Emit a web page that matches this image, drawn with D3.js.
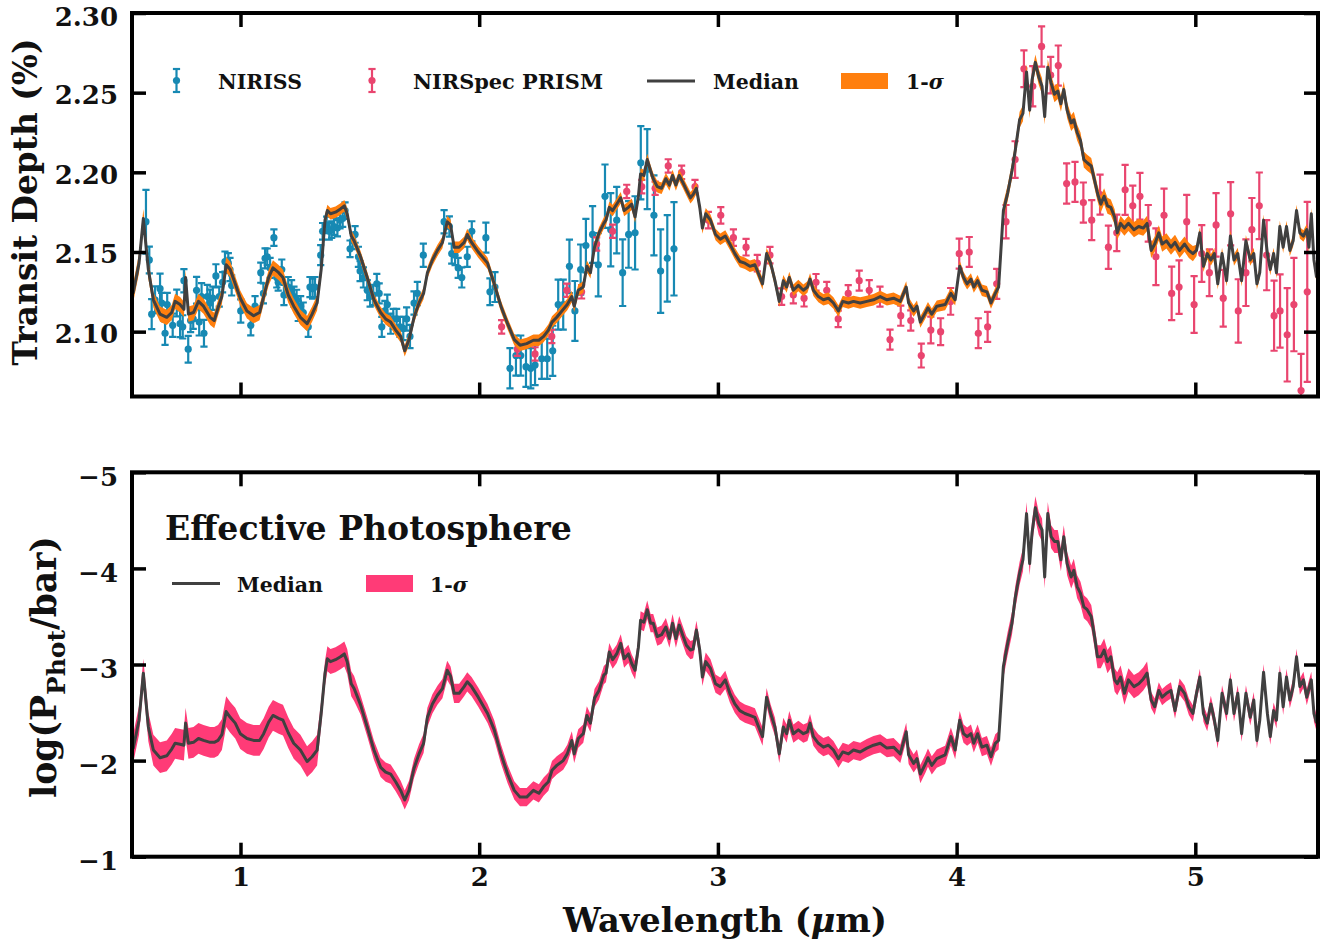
<!DOCTYPE html>
<html><head><meta charset="utf-8">
<script src="https://cdn.jsdelivr.net/npm/d3@7"></script>
<style>
body{margin:0;background:#fff}
svg{display:block}
text{font-family:'DejaVu Serif',serif;font-weight:bold;fill:#111}
</style>
</head><body>
<svg id="c" width="1335" height="947"></svg>
<script>
// ---------------- DATA ----------------
const modelWave = [
0.550,0.575,0.593,0.614,0.635,0.663,0.691,0.712,0.726,0.747,
0.763,0.770,0.782,0.803,0.824,0.845,0.873,0.890,0.906,0.922,
0.940,0.957,0.978,0.999,1.027,1.055,1.080,1.097,1.118,1.136,
1.160,1.178,1.200,1.223,1.251,1.279,1.300,1.321,1.338,1.354,
1.364,1.377,1.398,1.419,1.435,1.447,1.464,1.476,1.503,1.531,
1.559,1.587,1.608,1.629,1.650,1.671,1.688,1.706,1.727,1.748,
1.767,1.783,1.804,1.825,1.846,1.866,1.880,1.895,1.916,1.937,
1.950,1.968,1.996,2.035,2.063,2.091,2.119,2.147,2.171,2.199,
2.227,2.250,2.270,2.290,2.305,2.325,2.352,2.369,2.388,2.398,
2.415,2.436,2.451,2.466,2.483,2.502,2.522,2.531,2.545,2.559,
2.576,2.593,2.607,2.625,2.639,2.653,2.667,2.676,2.690,2.704,
2.718,2.729,2.746,2.764,2.782,2.797,2.810,2.824,2.838,2.852,
2.868,2.885,2.896,2.910,2.924,2.935,2.949,2.969,2.990,3.010,
3.031,3.050,3.071,3.092,3.113,3.134,3.155,3.171,3.187,3.204,
3.221,3.239,3.257,3.274,3.288,3.299,3.316,3.337,3.358,3.375,
3.386,3.400,3.421,3.442,3.463,3.484,3.505,3.523,3.547,3.568,
3.596,3.624,3.652,3.680,3.708,3.736,3.764,3.789,3.799,3.820,
3.834,3.848,3.870,3.880,3.896,3.917,3.952,3.976,3.994,4.013,
4.029,4.044,4.060,4.072,4.088,4.106,4.127,4.144,4.162,4.176,
4.196,4.214,4.232,4.246,4.264,4.278,4.293,4.306,4.316,4.330,
4.344,4.358,4.369,4.382,4.396,4.410,4.424,4.437,4.449,4.463,
4.480,4.491,4.505,4.519,4.533,4.547,4.564,4.578,4.590,4.604,
4.618,4.632,4.646,4.662,4.673,4.687,4.703,4.720,4.743,4.763,
4.782,4.798,4.815,4.830,4.847,4.861,4.879,4.898,4.915,4.934,
4.955,4.973,4.990,5.005,5.019,5.034,5.050,5.065,5.080,5.094,
5.112,5.131,5.147,5.162,5.178,5.194,5.212,5.230,5.245,5.258,
5.270,5.286,5.302,5.314,5.328,5.340,5.354,5.368,5.382,5.396,
5.410,5.424,5.438,5.453,5.467,5.476,5.486,5.497,5.508];

const depthMedian = [
2.124,2.143,2.171,2.139,2.120,2.111,2.109,2.112,2.119,2.117,
2.114,2.134,2.111,2.112,2.119,2.116,2.109,2.107,2.115,2.122,
2.142,2.139,2.130,2.121,2.113,2.110,2.112,2.122,2.134,2.140,
2.137,2.134,2.123,2.116,2.109,2.105,2.111,2.118,2.139,2.170,
2.176,2.174,2.175,2.177,2.179,2.174,2.160,2.157,2.147,2.134,
2.120,2.112,2.108,2.106,2.101,2.097,2.088,2.095,2.109,2.118,
2.124,2.137,2.145,2.151,2.156,2.169,2.167,2.153,2.153,2.156,
2.161,2.156,2.150,2.143,2.130,2.116,2.105,2.095,2.0915,2.0925,
2.0946,2.0946,2.097,2.101,2.106,2.109,2.114,2.117,2.122,2.116,
2.126,2.128,2.141,2.137,2.153,2.162,2.168,2.170,2.178,2.176,
2.180,2.184,2.176,2.178,2.180,2.172,2.185,2.199,2.198,2.208,
2.201,2.196,2.191,2.190,2.196,2.192,2.198,2.192,2.198,2.194,
2.189,2.184,2.186,2.190,2.178,2.165,2.174,2.170,2.161,2.158,
2.160,2.155,2.149,2.144,2.143,2.141,2.142,2.136,2.130,2.149,
2.143,2.132,2.119,2.132,2.128,2.134,2.126,2.129,2.126,2.128,
2.133,2.126,2.122,2.120,2.121,2.118,2.113,2.119,2.118,2.119,
2.118,2.119,2.120,2.122,2.120,2.121,2.119,2.128,2.118,2.113,
2.116,2.106,2.112,2.115,2.111,2.116,2.117,2.124,2.120,2.141,
2.134,2.130,2.133,2.128,2.132,2.126,2.125,2.118,2.124,2.128,
2.176,2.187,2.201,2.214,2.233,2.237,2.263,2.239,2.258,2.269,
2.260,2.254,2.235,2.266,2.256,2.249,2.251,2.243,2.252,2.239,
2.231,2.233,2.225,2.220,2.208,2.206,2.204,2.195,2.187,2.180,
2.185,2.179,2.178,2.172,2.162,2.168,2.165,2.168,2.164,2.166,
2.165,2.168,2.151,2.155,2.162,2.155,2.157,2.153,2.156,2.151,
2.155,2.151,2.149,2.151,2.162,2.141,2.149,2.145,2.149,2.130,
2.149,2.132,2.160,2.145,2.149,2.132,2.157,2.145,2.149,2.130,
2.137,2.170,2.149,2.139,2.149,2.137,2.166,2.153,2.166,2.151,
2.157,2.176,2.162,2.160,2.164,2.153,2.174,2.145,2.134];

const photMedian = [
-2.12,-2.42,-2.91,-2.35,-2.11,-2.03,-2.05,-2.12,-2.18,-2.17,
-2.16,-2.39,-2.18,-2.19,-2.23,-2.21,-2.19,-2.19,-2.21,-2.27,
-2.51,-2.45,-2.39,-2.28,-2.23,-2.21,-2.21,-2.28,-2.40,-2.47,
-2.44,-2.42,-2.29,-2.18,-2.11,-1.99,-2.04,-2.11,-2.49,-2.91,
-3.06,-3.03,-3.05,-3.08,-3.11,-3.03,-2.80,-2.75,-2.58,-2.35,
-2.11,-1.93,-1.88,-1.86,-1.78,-1.69,-1.59,-1.69,-1.92,-2.07,
-2.18,-2.45,-2.59,-2.68,-2.75,-2.94,-2.88,-2.70,-2.70,-2.77,
-2.82,-2.77,-2.66,-2.49,-2.32,-2.07,-1.86,-1.69,-1.62,-1.62,
-1.69,-1.66,-1.73,-1.78,-1.90,-1.95,-2.00,-2.07,-2.21,-2.07,
-2.23,-2.28,-2.47,-2.39,-2.65,-2.73,-2.89,-2.91,-3.13,-3.05,
-3.11,-3.22,-3.06,-3.11,-3.01,-2.94,-3.18,-3.46,-3.44,-3.57,
-3.43,-3.43,-3.29,-3.31,-3.39,-3.27,-3.43,-3.27,-3.41,-3.31,
-3.20,-3.15,-3.16,-3.36,-3.15,-2.87,-3.03,-2.96,-2.80,-2.77,
-2.84,-2.70,-2.59,-2.52,-2.49,-2.47,-2.45,-2.35,-2.25,-2.66,
-2.49,-2.35,-2.07,-2.35,-2.28,-2.42,-2.28,-2.32,-2.28,-2.30,
-2.39,-2.25,-2.18,-2.14,-2.16,-2.11,-2.02,-2.09,-2.07,-2.11,
-2.09,-2.13,-2.16,-2.18,-2.13,-2.14,-2.07,-2.30,-2.06,-1.97,
-2.02,-1.86,-1.97,-2.03,-1.95,-2.02,-2.06,-2.25,-2.11,-2.42,
-2.28,-2.25,-2.28,-2.18,-2.28,-2.14,-2.16,-2.04,-2.18,-2.21,
-2.98,-3.22,-3.43,-3.70,-3.95,-4.09,-4.57,-4.05,-4.37,-4.63,
-4.47,-4.40,-3.91,-4.57,-4.33,-4.28,-4.28,-4.09,-4.33,-4.05,
-3.91,-3.98,-3.81,-3.74,-3.60,-3.57,-3.50,-3.29,-3.08,-3.08,
-3.15,-3.03,-3.08,-2.84,-2.80,-2.87,-2.70,-2.84,-2.77,-2.80,
-2.85,-2.91,-2.63,-2.56,-2.73,-2.66,-2.70,-2.73,-2.52,-2.77,
-2.70,-2.56,-2.49,-2.70,-2.87,-2.49,-2.39,-2.59,-2.42,-2.21,
-2.70,-2.49,-2.84,-2.49,-2.70,-2.28,-2.70,-2.45,-2.63,-2.21,
-2.42,-2.92,-2.49,-2.25,-2.52,-2.42,-2.91,-2.56,-2.87,-2.63,
-2.77,-3.08,-2.77,-2.84,-2.66,-2.75,-2.84,-2.49,-2.39];

// 1-sigma half widths read per wavelength range: [from, to, halfWidth]
const depthSigmaBands = [[0.54,0.62,0.006],[0.62,1.34,0.0048],[1.34,4.19,0.0036],[4.19,4.66,0.005],[4.66,5.0,0.0048],[5.0,5.52,0.0036]];
const photSigmaBands = [[0.54,0.62,0.15],[0.62,1.33,0.16],[1.33,1.50,0.13],[1.50,2.10,0.10],[2.10,4.19,0.095],[4.19,4.80,0.12],[4.80,5.52,0.085]];

const nirissWave = [
0.604,0.618,0.628,0.642,0.663,0.670,0.684,0.693,0.716,0.733,
0.747,0.758,0.763,0.781,0.791,0.802,0.816,0.827,0.837,0.847,
0.861,0.872,0.884,0.897,0.911,0.925,0.935,0.949,0.956,0.963,
1.001,1.043,1.061,1.085,1.096,1.103,1.112,1.124,1.140,1.152,
1.158,1.173,1.182,1.200,1.214,1.224,1.235,1.242,1.252,1.263,
1.284,1.291,1.302,1.312,1.336,1.344,1.361,1.372,1.382,1.392,
1.406,1.417,1.428,1.438,1.459,1.470,1.480,1.494,1.501,1.515,
1.531,1.543,1.556,1.571,1.581,1.592,1.605,1.615,1.629,1.640,
1.654,1.668,1.682,1.696,1.710,1.727,1.741,1.766,1.853,1.875,
1.885,1.899,1.912,1.927,1.950,1.969,2.028,2.045,2.066,2.129,
2.154,2.174,2.196,2.216,2.234,2.262,2.285,2.308,2.331,2.352,
2.378,2.401,2.425,2.447,2.475,2.499,2.527,2.551,2.576,2.601,
2.626,2.653,2.677,2.704,2.732,2.760,2.788,2.816];
const nirissDepth = [
2.169,2.145,2.111,2.120,2.127,2.118,2.099,2.117,2.104,2.118,
2.105,2.103,2.132,2.089,2.107,2.108,2.126,2.106,2.122,2.099,
2.122,2.118,2.121,2.135,2.122,2.131,2.144,2.143,2.139,2.129,
2.113,2.104,2.116,2.137,2.124,2.146,2.147,2.140,2.159,2.134,
2.131,2.139,2.123,2.128,2.126,2.122,2.120,2.113,2.116,2.112,
2.103,2.128,2.127,2.128,2.148,2.163,2.167,2.163,2.164,2.166,
2.165,2.170,2.171,2.176,2.152,2.157,2.161,2.147,2.138,2.134,
2.126,2.122,2.123,2.130,2.124,2.103,2.113,2.117,2.105,2.108,
2.108,2.103,2.102,2.108,2.097,2.118,2.124,2.148,2.169,2.166,
2.149,2.148,2.140,2.134,2.147,2.163,2.159,2.125,2.128,2.077,
2.085,2.085,2.078,2.077,2.079,2.083,2.083,2.088,2.117,2.117,
2.141,2.113,2.139,2.154,2.161,2.142,2.185,2.164,2.170,2.137,
2.161,2.162,2.206,2.202,2.173,2.138,2.146,2.152];
const nirissErr = [
0.020,0.0084,0.0094,0.0084,0.0094,0.0063,0.0073,0.0073,0.0073,0.0084,
0.0084,0.0073,0.0073,0.0084,0.0073,0.0063,0.0084,0.0084,0.0084,0.0084,
0.0073,0.0084,0.0073,0.0073,0.0063,0.0063,0.0063,0.0063,0.0073,0.0063,
0.0073,0.0063,0.0063,0.0063,0.0063,0.0063,0.0052,0.0063,0.0052,0.0063,
0.0052,0.0063,0.0063,0.0063,0.0063,0.0063,0.0063,0.0063,0.0063,0.0063,
0.0063,0.0063,0.0063,0.0063,0.0063,0.0052,0.0052,0.0052,0.0052,0.0052,
0.0052,0.0052,0.0052,0.0052,0.0052,0.0052,0.0052,0.0063,0.0063,0.0063,
0.0063,0.0063,0.0063,0.0063,0.0063,0.0063,0.0063,0.0063,0.0063,0.0063,
0.0063,0.0063,0.0073,0.0073,0.0073,0.0073,0.0073,0.0073,0.0073,0.0063,
0.0063,0.0063,0.0063,0.0063,0.0063,0.0063,0.0094,0.0084,0.0094,0.0126,
0.0126,0.0126,0.0126,0.0126,0.0126,0.0126,0.0126,0.0157,0.0157,0.0157,
0.0168,0.0188,0.0157,0.0168,0.0178,0.0199,0.0199,0.0230,0.0209,0.0209,
0.0209,0.0230,0.0230,0.0251,0.0251,0.0262,0.0272,0.0293];

const prismWave = [
2.094,2.160,2.234,2.304,2.367,2.429,2.492,2.559,2.618,2.681,
2.737,2.792,2.848,2.904,2.960,3.012,3.065,3.118,3.165,3.218,
3.267,3.316,3.361,3.411,3.456,3.504,3.546,3.592,3.634,3.679,
3.721,3.766,3.808,3.852,3.892,3.933,3.975,4.011,4.053,4.091,
4.130,4.168,4.207,4.245,4.282,4.319,4.356,4.394,4.426,4.461,
4.496,4.531,4.566,4.601,4.636,4.671,4.706,4.738,4.768,4.803,
4.835,4.869,4.901,4.932,4.964,4.995,5.027,5.059,5.087,5.117,
5.148,5.180,5.212,5.237,5.268,5.299,5.330,5.355,5.385,5.413,
5.443,5.469];
const prismDepth = [
2.103,2.089,2.086,2.097,2.126,2.125,2.155,2.163,2.188,2.191,
2.190,2.204,2.200,2.191,2.170,2.173,2.159,2.153,2.143,2.148,
2.122,2.123,2.121,2.131,2.126,2.108,2.124,2.132,2.126,2.122,
2.095,2.110,2.107,2.085,2.101,2.100,2.119,2.149,2.150,2.099,
2.103,2.130,2.169,2.208,2.265,2.254,2.279,2.261,2.267,2.193,
2.194,2.181,2.170,2.186,2.153,2.162,2.189,2.179,2.185,2.168,
2.147,2.173,2.124,2.128,2.169,2.117,2.149,2.137,2.167,2.121,
2.174,2.113,2.137,2.164,2.179,2.148,2.110,2.113,2.098,2.117,
2.063,2.125];
const prismErr = [
0.0042,0.0042,0.0042,0.0042,0.0042,0.0042,0.0042,0.0042,0.0042,0.0042,
0.0042,0.0042,0.0042,0.0042,0.0052,0.0052,0.0052,0.0052,0.0052,0.0052,
0.0052,0.0052,0.0052,0.0052,0.0052,0.0052,0.0052,0.0063,0.0063,0.0063,
0.0063,0.0063,0.0063,0.0075,0.0084,0.0084,0.0084,0.0094,0.0094,0.0094,
0.0094,0.0094,0.0105,0.0115,0.0115,0.0126,0.0126,0.0115,0.0126,0.0126,
0.0126,0.0126,0.0126,0.0126,0.0136,0.0115,0.0157,0.0126,0.0147,0.0115,
0.0178,0.0168,0.0168,0.0168,0.0168,0.0178,0.0178,0.0147,0.0199,0.0178,
0.0199,0.0199,0.0209,0.0199,0.0209,0.0220,0.0220,0.0230,0.0293,0.0293,
0.0230,0.0565];

const xTicks = [1,2,3,4,5];
const depthTicks = [2.10,2.15,2.20,2.25,2.30];
const photTicks = [-5,-4,-3,-2,-1];
const xLabel = "Wavelength";
const topTitle = "Transit Depth (%)";
const panelTitle = "Effective Photosphere";

// ---------------- STYLE / LAYOUT ----------------
const C = {blue:'#1789b3', pink:'#e9456f', orange:'#ff7f0e', band2:'#ff3b77', line:'#404040'};
const X0=132, X1=1318;
const TOP={t:13,b:396.5}, BOT={t:472.3,b:856.7};
const svg = d3.select('#c');
const x = d3.scaleLinear().domain([0.5455,5.514]).range([X0,X1]);
const yT = d3.scaleLinear().domain([2.0593,2.30]).range([TOP.b,TOP.t]);
const yB = d3.scaleLinear().domain([-5,-1]).range([BOT.t,BOT.b]);

function sigmaAt(bands,w){ for(const b of bands){ if(w>=b[0]&&w<b[1]) return b[2]; } return bands[bands.length-1][2]; }
const model = modelWave.map((w,i)=>({w, d:depthMedian[i], p:photMedian[i], sd:sigmaAt(depthSigmaBands,w), sp:sigmaAt(photSigmaBands,w)}));
const niriss = nirissWave.map((w,i)=>({w, v:nirissDepth[i], e:nirissErr[i]}));
const prism = prismWave.map((w,i)=>({w, v:prismDepth[i], e:prismErr[i]}));

const defs = svg.append('defs');
defs.append('clipPath').attr('id','clipT').append('rect').attr('x',X0).attr('y',TOP.t).attr('width',X1-X0).attr('height',TOP.b-TOP.t);
defs.append('clipPath').attr('id','clipB').append('rect').attr('x',X0).attr('y',BOT.t).attr('width',X1-X0).attr('height',BOT.b-BOT.t);

function fit(sel, target){
  const fs = parseFloat(sel.attr('font-size'));
  const len = sel.node().getComputedTextLength();
  sel.attr('font-size', fs*target/len);
}

// -------- top panel data --------
const gT = svg.append('g').attr('clip-path','url(#clipT)');
function errorbars(g, data, color){
  const gg = g.append('g').attr('stroke',color).attr('stroke-width',2.2).attr('fill',color);
  data.forEach(d=>{
    const cx=x(d.w), y1=yT(d.v-d.e), y2=yT(d.v+d.e);
    gg.append('line').attr('x1',cx).attr('x2',cx).attr('y1',y1).attr('y2',y2);
    gg.append('line').attr('x1',cx-3.6).attr('x2',cx+3.6).attr('y1',y1).attr('y2',y1);
    gg.append('line').attr('x1',cx-3.6).attr('x2',cx+3.6).attr('y1',y2).attr('y2',y2);
    gg.append('circle').attr('cx',cx).attr('cy',yT(d.v)).attr('r',3.6).attr('stroke','none');
  });
}
errorbars(gT, niriss, C.blue);
errorbars(gT, prism, C.pink);
gT.append('path').datum(model).attr('fill',C.orange)
  .attr('d', d3.area().x(d=>x(d.w)).y0(d=>yT(d.d-d.sd)).y1(d=>yT(d.d+d.sd)));
gT.append('path').datum(model).attr('fill','none').attr('stroke',C.line).attr('stroke-width',3).attr('stroke-linejoin','round')
  .attr('d', d3.line().x(d=>x(d.w)).y(d=>yT(d.d)));

// -------- bottom panel data --------
const gB = svg.append('g').attr('clip-path','url(#clipB)');
gB.append('path').datum(model).attr('fill',C.band2)
  .attr('d', d3.area().x(d=>x(d.w)).y0(d=>yB(d.p-d.sp)).y1(d=>yB(d.p+d.sp)));
gB.append('path').datum(model).attr('fill','none').attr('stroke',C.line).attr('stroke-width',3).attr('stroke-linejoin','round')
  .attr('d', d3.line().x(d=>x(d.w)).y(d=>yB(d.p)));

// -------- axes --------
function styleAxis(g){
  g.select('.domain').remove();
  g.selectAll('.tick line').attr('stroke','#000').attr('stroke-width',3.5);
  g.selectAll('.tick text').attr('font-family',"'DejaVu Serif',serif").attr('font-weight','bold').attr('font-size',26).attr('fill','#111');
}
const TL=14;
// top panel
svg.append('g').attr('transform',`translate(${X0},0)`).call(d3.axisLeft(yT).tickValues(depthTicks).tickFormat(d=>d.toFixed(2)).tickSize(-TL).tickPadding(14)).call(styleAxis)
  .selectAll('.tick text').attr('dy', d=> d>=2.299 ? '0.47em' : '0.42em');
svg.append('g').attr('transform',`translate(${X1},0)`).call(d3.axisRight(yT).tickValues(depthTicks).tickFormat('').tickSize(-TL)).call(styleAxis);
svg.append('g').attr('transform',`translate(0,${TOP.b})`).call(d3.axisBottom(x).tickValues(xTicks).tickFormat('').tickSize(-TL)).call(styleAxis);
svg.append('g').attr('transform',`translate(0,${TOP.t})`).call(d3.axisTop(x).tickValues(xTicks).tickFormat('').tickSize(-TL)).call(styleAxis);
// bottom panel
svg.append('g').attr('transform',`translate(${X0},0)`).call(d3.axisLeft(yB).tickValues(photTicks).tickFormat(d=>'\u2212'+Math.abs(d)).tickSize(-TL).tickPadding(14)).call(styleAxis)
  .selectAll('.tick text').attr('dy','0.5em');
svg.append('g').attr('transform',`translate(${X1},0)`).call(d3.axisRight(yB).tickValues(photTicks).tickFormat('').tickSize(-TL)).call(styleAxis);
svg.append('g').attr('transform',`translate(0,${BOT.b})`).call(d3.axisBottom(x).tickValues(xTicks).tickFormat(d=>d).tickSize(-TL).tickPadding(11)).call(styleAxis);
svg.append('g').attr('transform',`translate(0,${BOT.t})`).call(d3.axisTop(x).tickValues(xTicks).tickFormat('').tickSize(-TL)).call(styleAxis);

// frames
[TOP,BOT].forEach(p=>{
  svg.append('rect').attr('x',X0).attr('y',p.t).attr('width',X1-X0).attr('height',p.b-p.t)
    .attr('fill','none').attr('stroke','#000').attr('stroke-width',4);
});

// -------- titles --------
const t1 = svg.append('text').attr('font-size',32).attr('text-anchor','middle')
  .attr('transform','translate(37,202) rotate(-90)').text(topTitle);
fit(t1,327);
const t2 = svg.append('text').attr('font-size',34).attr('text-anchor','middle')
  .attr('transform','translate(56,667) rotate(-90)');
t2.append('tspan').text('log(P');
t2.append('tspan').attr('dy',9).attr('font-size','0.72em').text('Phot');
t2.append('tspan').attr('dy',-9).text('/bar)');
fit(t2,262);
const t3 = svg.append('text').attr('font-size',34).attr('text-anchor','middle').attr('x',725).attr('y',932);
t3.append('tspan').text(xLabel+' (');
t3.append('tspan').attr('font-style','italic').text('\u03bc');
t3.append('tspan').text('m)');
fit(t3,324);
const t4 = svg.append('text').attr('font-size',34).attr('x',165).attr('y',540).text(panelTitle);
fit(t4,407);

// -------- legends --------
function legendErr(cx,cy,color){
  const g=svg.append('g').attr('stroke',color).attr('stroke-width',2.2).attr('fill',color);
  g.append('line').attr('x1',cx).attr('x2',cx).attr('y1',cy-11.5).attr('y2',cy+11.5);
  g.append('line').attr('x1',cx-3.6).attr('x2',cx+3.6).attr('y1',cy-11.5).attr('y2',cy-11.5);
  g.append('line').attr('x1',cx-3.6).attr('x2',cx+3.6).attr('y1',cy+11.5).attr('y2',cy+11.5);
  g.append('circle').attr('cx',cx).attr('cy',cy).attr('r',3.6).attr('stroke','none');
}
const lt = svg.append('text').attr('font-size',21).attr('x',218).attr('y',89).text('NIRISS');
fit(lt,84);
const lfs = parseFloat(lt.attr('font-size'));
legendErr(176.5,80.5,C.blue);
legendErr(372,80.5,C.pink);
const np = svg.append('text').attr('font-size',lfs).attr('x',413).attr('y',89).text('NIRSpec PRISM');
fit(np,190);
svg.append('line').attr('x1',647).attr('x2',695).attr('y1',81).attr('y2',81).attr('stroke',C.line).attr('stroke-width',3);
svg.append('text').attr('font-size',lfs).attr('x',713).attr('y',89).text('Median');
svg.append('rect').attr('x',841).attr('y',73).attr('width',47).attr('height',16).attr('fill',C.orange);
const s1 = svg.append('text').attr('font-size',lfs).attr('x',906).attr('y',89);
s1.append('tspan').text('1-'); s1.append('tspan').attr('font-style','italic').text('\u03c3');

svg.append('line').attr('x1',172).attr('x2',220).attr('y1',583.5).attr('y2',583.5).attr('stroke',C.line).attr('stroke-width',3);
svg.append('text').attr('font-size',lfs).attr('x',237).attr('y',592).text('Median');
svg.append('rect').attr('x',366).attr('y',575).attr('width',47).attr('height',17).attr('fill',C.band2);
const s2 = svg.append('text').attr('font-size',lfs).attr('x',430).attr('y',592);
s2.append('tspan').text('1-'); s2.append('tspan').attr('font-style','italic').text('\u03c3');
</script>
</body></html>
